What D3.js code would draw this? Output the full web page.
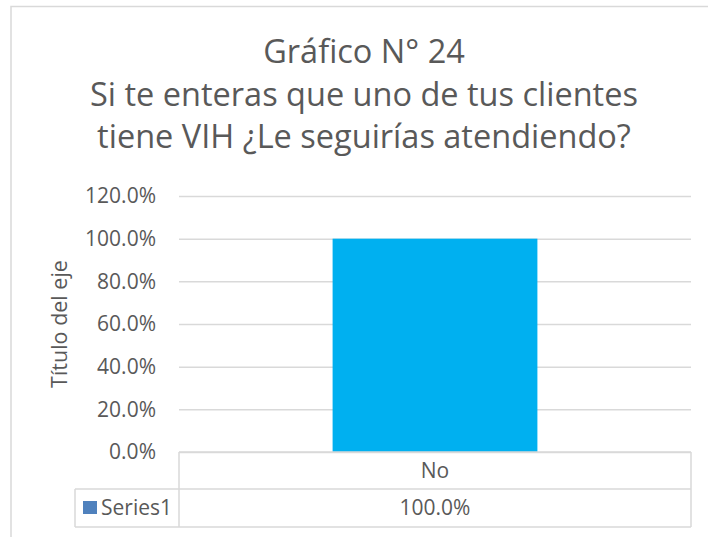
<!DOCTYPE html>
<html>
<head>
<meta charset="utf-8">
<script src="https://cdn.jsdelivr.net/npm/d3@7"></script>
<style>
  html, body { margin: 0; padding: 0; background: #fff; }
  svg { display: block; }
  text { font-family: "Open Sans", "Liberation Sans", sans-serif; fill: #595959; }
</style>
</head>
<body>
<svg id="chart" width="708" height="537"></svg>
<script>
const titleLines = ["Gráfico N° 24", "Si te enteras que uno de tus clientes", "tiene VIH ¿Le seguirías atendiendo?"];
const categories = ["No"];
const seriesName = "Series1";
const values = [1.0];
const yTicks = [0, 0.2, 0.4, 0.6, 0.8, 1.0, 1.2];
const yAxisTitle = "Título del eje";

const svg = d3.select("#chart");
const plot = { left: 179, right: 691, top: 196, bottom: 452 };
const table = { left: 75, row1: 452, row2: 489, bottom: 527 };
const grid = "#d9d9d9";

// outer chart border
svg.append("rect").attr("x", 11).attr("y", 6.5).attr("width", 720).attr("height", 560)
  .attr("fill", "none").attr("stroke", "#d9d9d9").attr("stroke-width", 1.5);

// title
const titleG = svg.append("g");
const baselines = [63, 106, 148];
titleLines.forEach((t, i) => {
  titleG.append("text").attr("x", 364).attr("y", baselines[i])
    .attr("text-anchor", "middle").style("font-size", "32.5px").text(t);
});

const x = d3.scaleBand().domain(categories).range([plot.left, plot.right])
  .paddingInner(0.6).paddingOuter(0.3);
const y = d3.scaleLinear().domain([0, 1.2]).range([plot.bottom, plot.top]);

// gridlines + ticks via axis
const yAxis = d3.axisLeft(y).tickValues(yTicks).tickFormat(d3.format(".1%"))
  .tickSizeInner(-(plot.right - plot.left)).tickSizeOuter(0).tickPadding(23);
const ag = svg.append("g").attr("transform", `translate(${plot.left},0)`).call(yAxis);
ag.select(".domain").remove();
ag.selectAll(".tick line").attr("stroke", grid).attr("stroke-width", 1.5);
ag.selectAll(".tick text").style("font-size", "21px").attr("fill", "#595959")
  .attr("font-family", null);

// bars
svg.append("g").selectAll("rect").data(values).join("rect")
  .attr("x", (d, i) => x(categories[i]))
  .attr("y", d => y(d))
  .attr("width", x.bandwidth())
  .attr("height", d => y(0) - y(d))
  .attr("fill", "#00B0F0");

// y axis title
svg.append("text").attr("transform", `translate(67,${(plot.top + plot.bottom) / 2}) rotate(-90)`)
  .attr("text-anchor", "middle").style("font-size", "21.5px").text(yAxisTitle);

// data table
const tg = svg.append("g").attr("stroke", grid).attr("stroke-width", 1.5).attr("fill", "none");
tg.append("line").attr("x1", plot.left).attr("x2", plot.right).attr("y1", table.row1).attr("y2", table.row1);
tg.append("line").attr("x1", table.left).attr("x2", plot.right).attr("y1", table.row2).attr("y2", table.row2);
tg.append("line").attr("x1", table.left).attr("x2", plot.right).attr("y1", table.bottom).attr("y2", table.bottom);
tg.append("line").attr("x1", table.left).attr("x2", table.left).attr("y1", table.row2).attr("y2", table.bottom);
tg.append("line").attr("x1", plot.left).attr("x2", plot.left).attr("y1", table.row1).attr("y2", table.bottom);
tg.append("line").attr("x1", plot.right).attr("x2", plot.right).attr("y1", table.row1).attr("y2", table.bottom);
categories.forEach((c, i) => {
  if (i > 0) {
    const xb = plot.left + x.step() * i;
    tg.append("line").attr("x1", xb).attr("x2", xb).attr("y1", table.row1).attr("y2", table.bottom);
  }
});

svg.append("g").selectAll("text.cat").data(categories).join("text")
  .attr("x", d => x(d) + x.bandwidth() / 2).attr("y", (table.row1 + table.row2) / 2 + 7)
  .attr("text-anchor", "middle").style("font-size", "21px").text(d => d);

svg.append("g").selectAll("text.val").data(values).join("text")
  .attr("x", (d, i) => x(categories[i]) + x.bandwidth() / 2).attr("y", (table.row2 + table.bottom) / 2 + 7)
  .attr("text-anchor", "middle").style("font-size", "21px").text(d => d3.format(".1%")(d));

// legend key in table
svg.append("rect").attr("x", 83).attr("y", 501).attr("width", 14).attr("height", 13).attr("fill", "#4F81BD");
svg.append("text").attr("x", 101).attr("y", 515).style("font-size", "21px").text(seriesName);
</script>
</body>
</html>
